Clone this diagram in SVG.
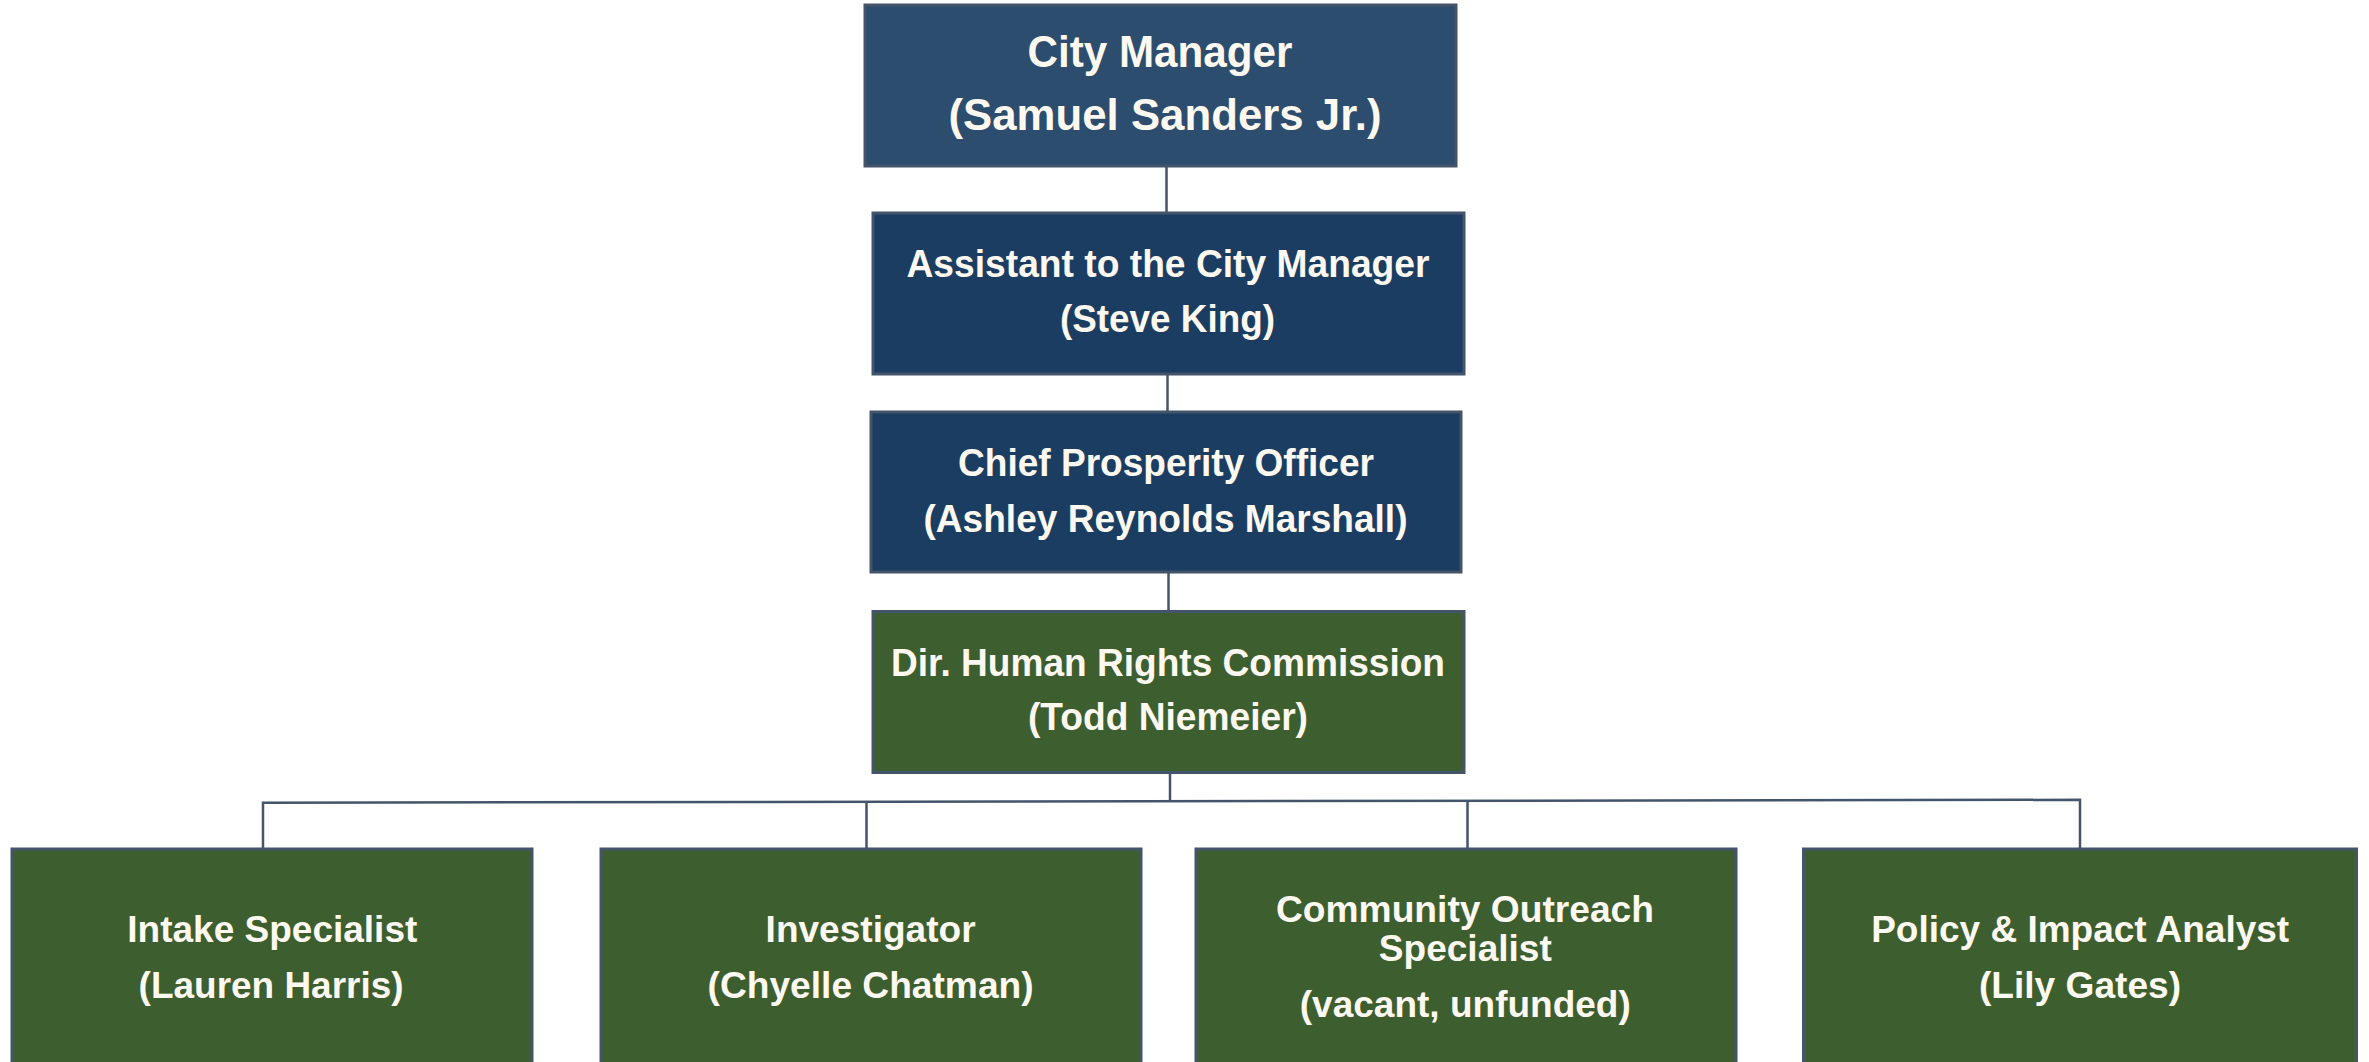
<svg xmlns="http://www.w3.org/2000/svg" width="2369" height="1062" viewBox="0 0 2369 1062">
<style>
.box{stroke:#44546a;stroke-width:3}
.cm{fill:#2c4d6e}
.nv{fill:#1b3d62}
.gr{fill:#3d5e2e}
.t{font-family:"Liberation Sans Narrow","Liberation Sans",Arial,sans-serif;font-weight:bold;fill:#fdf8f0;text-anchor:middle}
.big{font-size:45px}
.mid{font-size:38px}
.sm{font-size:37px}
.ln{stroke:#44546a;stroke-width:2.5;fill:none}
</style>
<rect width="2369" height="1062" fill="#ffffff"/>
<g id="connectors">
<line class="ln" x1="1166.5" y1="166" x2="1166.5" y2="213"/>
<line class="ln" x1="1167.5" y1="374" x2="1167.5" y2="412"/>
<line class="ln" x1="1168.5" y1="572" x2="1168.5" y2="611"/>
<line class="ln" x1="1170" y1="772" x2="1170" y2="801.5"/>
<polyline class="ln" points="263,849 263,802.7 2080,799.8 2080,849"/>
<line class="ln" x1="866.5" y1="802" x2="866.5" y2="849"/>
<line class="ln" x1="1467.5" y1="801" x2="1467.5" y2="849"/>
</g>
<g id="city-manager">
<rect class="box cm" x="865" y="5" width="591" height="161"/>
<text class="t big" x="1160" y="67" textLength="265" lengthAdjust="spacingAndGlyphs">City Manager</text>
<text class="t big" x="1165" y="130" textLength="433" lengthAdjust="spacingAndGlyphs">(Samuel Sanders Jr.)</text>
</g>
<g id="assistant">
<rect class="box nv" x="873" y="213" width="591" height="161"/>
<text class="t mid" x="1168" y="277" textLength="523" lengthAdjust="spacingAndGlyphs">Assistant to the City Manager</text>
<text class="t mid" x="1167.5" y="332" textLength="215" lengthAdjust="spacingAndGlyphs">(Steve King)</text>
</g>
<g id="chief-prosperity">
<rect class="box nv" x="871" y="412" width="590" height="160"/>
<text class="t mid" x="1166" y="476" textLength="416" lengthAdjust="spacingAndGlyphs">Chief Prosperity Officer</text>
<text class="t mid" x="1165.5" y="531.5" textLength="484" lengthAdjust="spacingAndGlyphs">(Ashley Reynolds Marshall)</text>
</g>
<g id="dir-hrc">
<rect class="box gr" x="873" y="611.5" width="591" height="161"/>
<text class="t mid" x="1168" y="676" textLength="554" lengthAdjust="spacingAndGlyphs">Dir. Human Rights Commission</text>
<text class="t mid" x="1168" y="730" textLength="280" lengthAdjust="spacingAndGlyphs">(Todd Niemeier)</text>
</g>
<g id="intake">
<rect class="box gr" x="12" y="849" width="520" height="230"/>
<text class="t sm" x="272.3" y="941.5" textLength="290" lengthAdjust="spacingAndGlyphs">Intake Specialist</text>
<text class="t sm" x="271.1" y="998" textLength="265" lengthAdjust="spacingAndGlyphs">(Lauren Harris)</text>
</g>
<g id="investigator">
<rect class="box gr" x="601" y="849" width="540" height="230"/>
<text class="t sm" x="870.6" y="941.5" textLength="210" lengthAdjust="spacingAndGlyphs">Investigator</text>
<text class="t sm" x="870.6" y="998" textLength="326" lengthAdjust="spacingAndGlyphs">(Chyelle Chatman)</text>
</g>
<g id="community-outreach">
<rect class="box gr" x="1196" y="849" width="540" height="230"/>
<text class="t sm" x="1465" y="921.5" textLength="378" lengthAdjust="spacingAndGlyphs">Community Outreach</text>
<text class="t sm" x="1465.3" y="960.5" textLength="173" lengthAdjust="spacingAndGlyphs">Specialist</text>
<text class="t sm" x="1465.3" y="1016.5" textLength="331" lengthAdjust="spacingAndGlyphs">(vacant, unfunded)</text>
</g>
<g id="policy-impact">
<rect class="box gr" x="1803.5" y="849" width="553" height="230"/>
<text class="t sm" x="2080.2" y="941.5" textLength="418" lengthAdjust="spacingAndGlyphs">Policy &amp; Impact Analyst</text>
<text class="t sm" x="2080" y="998" textLength="202" lengthAdjust="spacingAndGlyphs">(Lily Gates)</text>
</g>
</svg>
